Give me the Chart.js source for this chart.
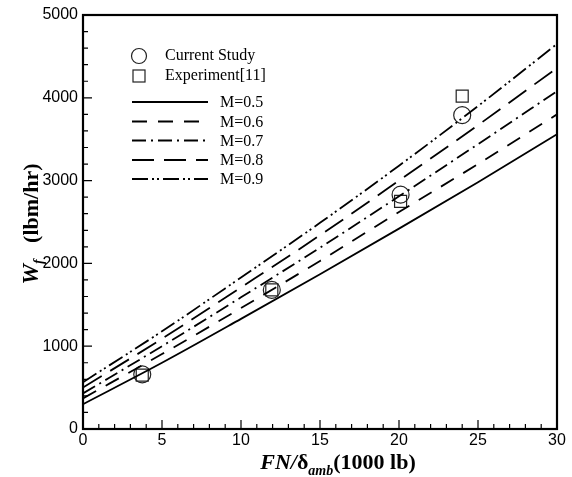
<!DOCTYPE html>
<html lang="en">
<head>
    <meta charset="UTF-8">
    <title>Wf vs FN/delta</title>
    <script src="https://cdn.jsdelivr.net/npm/chart.js"></script>
    <style>
        body {
            margin: 0;
            padding: 0;
            background: #ffffff;
        }

        .wrap {
            width: 572px;
            height: 477px;
        }
    </style>
</head>
<body>
    <div class="wrap">
        <canvas id="chart" width="572" height="477"></canvas>
    </div>

    <script>
        // curve samples (FN/delta in 1000 lb) and fuel flow per Mach number
        const xValues = [0, 5, 10, 15, 20, 25, 30];
        const m05 = [300, 800, 1330, 1870, 2420, 2980, 3560];
        const m06 = [370, 905, 1460, 2030, 2620, 3200, 3800];
        const m07 = [430, 1000, 1590, 2190, 2810, 3440, 4080];
        const m08 = [500, 1090, 1710, 2340, 3000, 3670, 4360];
        const m09 = [565, 1180, 1830, 2490, 3180, 3900, 4650];

        const studyX = [3.75, 11.95, 20.1, 24];
        const studyY = [660, 1680, 2830, 3790];
        const expX = [3.75, 11.95, 20.1, 24];
        const expY = [650, 1680, 2750, 4020];

        const lineLabels = ['M=0.5', 'M=0.6', 'M=0.7', 'M=0.8', 'M=0.9'];
        const lineDashes = [[], [15, 11], [14, 5, 2, 5], [22, 10], [16, 4, 2, 3, 2, 4]];

        const xTicks = [0, 5, 10, 15, 20, 25, 30];
        const yTicks = [0, 1000, 2000, 3000, 4000, 5000];
        const xMinorStep = 1;
        const yMinorStep = 200;

        function toPoints(xs, ys) {
            return xs.map((x, i) => ({ x: x, y: ys[i] }));
        }

        const curveSets = [m05, m06, m07, m08, m09].map((ys, i) => ({
            label: lineLabels[i],
            data: toPoints(xValues, ys),
            showLine: true,
            borderColor: '#000',
            borderWidth: 1.8,
            borderDash: lineDashes[i],
            pointRadius: 0,
            fill: false,
            cubicInterpolationMode: 'monotone'
        }));

        const markerSets = [
            {
                label: 'Current Study',
                data: toPoints(studyX, studyY),
                showLine: false,
                pointStyle: 'circle',
                pointRadius: 8.5,
                pointBorderWidth: 1.2,
                pointBorderColor: '#222',
                pointBackgroundColor: 'rgba(0,0,0,0)'
            },
            {
                label: 'Experiment[11]',
                data: toPoints(expX, expY),
                showLine: false,
                pointStyle: 'rect',
                pointRadius: 8.5,
                pointBorderWidth: 1.2,
                pointBorderColor: '#222',
                pointBackgroundColor: 'rgba(0,0,0,0)'
            }
        ];

        // frame, inward ticks, axis titles and the inset legend
        const decor = {
            id: 'decor',
            afterDraw(chart) {
                const ctx = chart.ctx;
                const a = chart.chartArea;
                const xs = chart.scales.x;
                const ys = chart.scales.y;
                ctx.save();
                ctx.strokeStyle = '#000';
                ctx.lineWidth = 1.2;
                ctx.beginPath();
                for (let v = xs.min; v <= xs.max + 1e-9; v += xMinorStep) {
                    const px = xs.getPixelForValue(v);
                    const len = xTicks.includes(Math.round(v)) ? 9 : 5;
                    ctx.moveTo(px, a.bottom);
                    ctx.lineTo(px, a.bottom - len);
                }
                for (let v = ys.min; v <= ys.max + 1e-9; v += yMinorStep) {
                    const py = ys.getPixelForValue(v);
                    const len = yTicks.includes(Math.round(v)) ? 9 : 5;
                    ctx.moveTo(a.left, py);
                    ctx.lineTo(a.left + len, py);
                }
                ctx.stroke();

                ctx.lineWidth = 2.2;
                ctx.strokeRect(a.left, a.top, a.right - a.left, a.bottom - a.top);

                // legend
                ctx.fillStyle = '#000';
                ctx.font = '16px "Liberation Serif"';
                ctx.textBaseline = 'middle';
                ctx.lineWidth = 1.2;
                ctx.strokeStyle = '#222';
                ctx.beginPath();
                ctx.arc(139, 56, 7.5, 0, Math.PI * 2);
                ctx.stroke();
                ctx.fillText('Current Study', 165, 56);
                ctx.strokeRect(133, 70, 12, 12);
                ctx.fillText('Experiment[11]', 165, 76);

                const rows = [102, 121.5, 140.5, 160, 179];
                ctx.strokeStyle = '#000';
                ctx.lineWidth = 1.8;
                rows.forEach((y, i) => {
                    ctx.setLineDash(lineDashes[i]);
                    ctx.beginPath();
                    ctx.moveTo(132, y);
                    ctx.lineTo(208, y);
                    ctx.stroke();
                    ctx.fillText(lineLabels[i], 220, y + 1);
                });
                ctx.setLineDash([]);

                // x title: FN/δamb(1000 lb)
                ctx.textBaseline = 'alphabetic';
                const parts = [
                    { t: 'FN/', f: 'italic bold 22px "Liberation Serif"', dy: 0 },
                    { t: 'δ', f: 'bold 22px "Liberation Serif"', dy: 0 },
                    { t: 'amb', f: 'italic bold 14px "Liberation Serif"', dy: 6 },
                    { t: '(1000 lb)', f: 'bold 22px "Liberation Serif"', dy: 0 }
                ];
                let total = 0;
                parts.forEach(p => { ctx.font = p.f; total += ctx.measureText(p.t).width; });
                let cx = 338 - total / 2;
                parts.forEach(p => {
                    ctx.font = p.f;
                    ctx.fillText(p.t, cx, 469 + p.dy);
                    cx += ctx.measureText(p.t).width;
                });

                // y title: Wf (lbm/hr)
                ctx.translate(38, 224);
                ctx.rotate(-Math.PI / 2);
                const yp = [
                    { t: 'W', f: 'italic bold 23px "Liberation Serif"', dy: 0 },
                    { t: 'f', f: 'italic bold 14px "Liberation Serif"', dy: 5 },
                    { t: '   (lbm/hr)', f: 'bold 22px "Liberation Serif"', dy: 0 }
                ];
                total = 0;
                yp.forEach(p => { ctx.font = p.f; total += ctx.measureText(p.t).width; });
                cx = -total / 2;
                yp.forEach(p => {
                    ctx.font = p.f;
                    ctx.fillText(p.t, cx, p.dy);
                    cx += ctx.measureText(p.t).width;
                });
                ctx.restore();
            }
        };

        new Chart(document.getElementById('chart').getContext('2d'), {
            type: 'scatter',
            data: { datasets: curveSets.concat(markerSets) },
            options: {
                responsive: false,
                animation: false,
                layout: { padding: { top: 15, right: 15, left: 0, bottom: 0 } },
                plugins: {
                    legend: { display: false },
                    tooltip: { enabled: false }
                },
                scales: {
                    x: {
                        type: 'linear',
                        min: 0,
                        max: 30,
                        grid: { display: false, drawTicks: false },
                        border: { display: false },
                        afterFit: s => { s.height = 48; },
                        afterBuildTicks: s => { s.ticks = xTicks.map(v => ({ value: v })); },
                        ticks: {
                            padding: 2,
                            color: '#000',
                            font: { family: 'Liberation Sans', size: 16 },
                            callback: v => String(v)
                        }
                    },
                    y: {
                        type: 'linear',
                        min: 0,
                        max: 5000,
                        grid: { display: false, drawTicks: false },
                        border: { display: false },
                        afterFit: s => { s.width = 83; },
                        afterBuildTicks: s => { s.ticks = yTicks.map(v => ({ value: v })); },
                        ticks: {
                            padding: 5,
                            color: '#000',
                            font: { family: 'Liberation Sans', size: 16 },
                            callback: v => String(v)
                        }
                    }
                }
            },
            plugins: [decor]
        });
    </script>
</body>
</html>
